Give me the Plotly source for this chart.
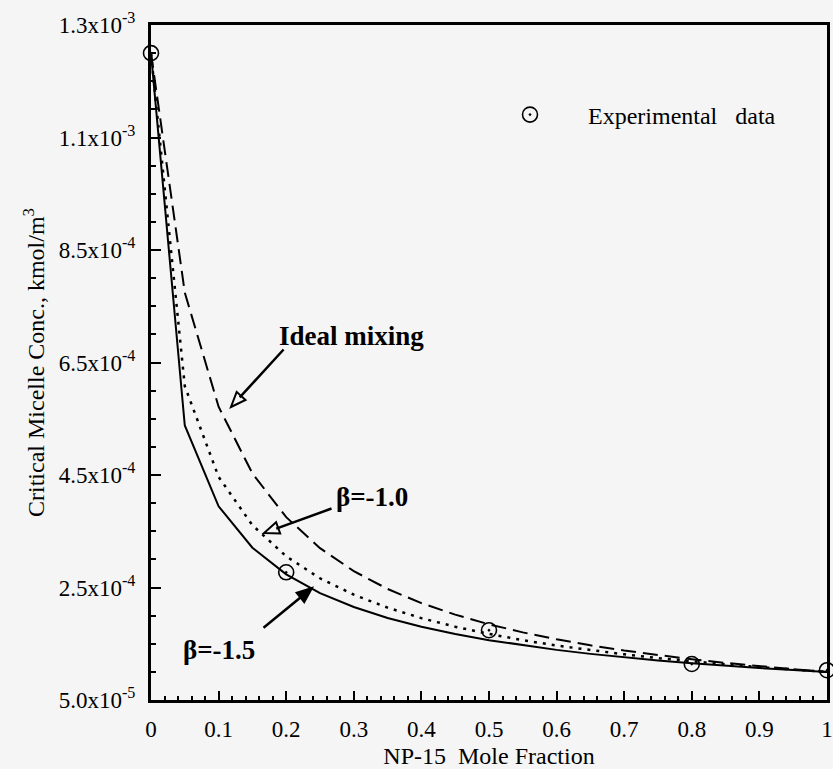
import math
import plotly.graph_objects as go

# NP-15 mole fraction in solution and the critical micelle concentration (kmol/m^3)
mole_fraction = [0.00, 0.05, 0.10, 0.15, 0.20, 0.25, 0.30, 0.35, 0.40, 0.45, 0.50,
                 0.55, 0.60, 0.65, 0.70, 0.75, 0.80, 0.85, 0.90, 0.95, 1.00]
cmc_ideal = [1.200e-3, 7.742e-4, 5.714e-4, 4.528e-4, 3.750e-4, 3.200e-4, 2.791e-4,
             2.474e-4, 2.222e-4, 2.017e-4, 1.846e-4, 1.702e-4, 1.579e-4, 1.472e-4,
             1.379e-4, 1.297e-4, 1.224e-4, 1.159e-4, 1.101e-4, 1.048e-4, 1.000e-4]
cmc_beta_10 = [1.200e-3, 6.080e-4, 4.467e-4, 3.607e-4, 3.054e-4, 2.664e-4, 2.372e-4,
               2.142e-4, 1.955e-4, 1.803e-4, 1.675e-4, 1.564e-4, 1.468e-4, 1.385e-4,
               1.312e-4, 1.245e-4, 1.186e-4, 1.133e-4, 1.084e-4, 1.040e-4, 1.000e-4]
cmc_beta_15 = [1.200e-3, 5.380e-4, 3.944e-4, 3.207e-4, 2.733e-4, 2.401e-4, 2.153e-4,
               1.959e-4, 1.803e-4, 1.674e-4, 1.564e-4, 1.472e-4, 1.391e-4, 1.320e-4,
               1.258e-4, 1.203e-4, 1.154e-4, 1.109e-4, 1.069e-4, 1.033e-4, 1.000e-4]

exp_fraction = [0.0, 0.2, 0.5, 0.8, 1.0]
exp_cmc = [1.200e-3, 2.77e-4, 1.74e-4, 1.14e-4, 1.03e-4]

x_tick_vals = [0, 0.1, 0.2, 0.3, 0.4, 0.5, 0.6, 0.7, 0.8, 0.9, 1.0]
x_tick_text = ["0", "0.1", "0.2", "0.3", "0.4", "0.5", "0.6", "0.7", "0.8", "0.9", "1"]
y_tick_vals = [5.0e-5, 2.5e-4, 4.5e-4, 6.5e-4, 8.5e-4, 1.05e-3, 1.25e-3]
y_tick_text = ["5.0x10<sup>-5</sup>", "2.5x10<sup>-4</sup>", "4.5x10<sup>-4</sup>",
               "6.5x10<sup>-4</sup>", "8.5x10<sup>-4</sup>", "1.1x10<sup>-3</sup>",
               "1.3x10<sup>-3</sup>"]

WIDTH, HEIGHT = 833, 769
MARGIN = dict(l=151, r=6, t=25, b=69)
X_RANGE = [0.0, 1.0]
Y_RANGE = [5.0e-5, 1.25e-3]
PLOT_W = WIDTH - MARGIN["l"] - MARGIN["r"]
PLOT_H = HEIGHT - MARGIN["t"] - MARGIN["b"]
BG = "#f5f5f5"
FONT = "Liberation Serif, Times New Roman, serif"

fig = go.Figure()

fig.add_trace(go.Scatter(
    x=mole_fraction, y=cmc_ideal, mode="lines", name="Ideal mixing",
    line=dict(color="black", width=2, dash="15px,7px"), showlegend=False))
fig.add_trace(go.Scatter(
    x=mole_fraction, y=cmc_beta_10, mode="lines", name="β=-1.0",
    line=dict(color="black", width=2.5, dash="3px,6px"), showlegend=False))
fig.add_trace(go.Scatter(
    x=mole_fraction, y=cmc_beta_15, mode="lines", name="β=-1.5",
    line=dict(color="black", width=2), showlegend=False))
fig.add_trace(go.Scatter(
    x=exp_fraction, y=exp_cmc, mode="markers", name="Experimental\u00a0\u00a0 data",
    marker=dict(symbol="circle-open-dot", size=15, color="black",
                line=dict(color="black", width=1.6)),
    cliponaxis=False, showlegend=True))


def px_to_data(dx, dy):
    """Convert a pixel offset into data-unit offsets on the x and y axes."""
    return (dx * (X_RANGE[1] - X_RANGE[0]) / PLOT_W,
            -dy * (Y_RANGE[1] - Y_RANGE[0]) / PLOT_H)


def arrow(tip_x, tip_y, ax, ay, filled=False, head_len=15, head_half=6):
    """Arrow shaft as an annotation plus a triangular head as a path shape."""
    fig.add_annotation(x=tip_x, y=tip_y, ax=ax, ay=ay, text="", showarrow=True,
                       arrowhead=0, arrowwidth=2.5, arrowcolor="black",
                       standoff=head_len - 2)
    norm = math.hypot(ax, ay)
    ux, uy = ax / norm, ay / norm
    nx, ny = -uy, ux
    pts = [(0.0, 0.0),
           (ux * head_len + nx * head_half, uy * head_len + ny * head_half),
           (ux * head_len - nx * head_half, uy * head_len - ny * head_half)]
    coords = []
    for px, py in pts:
        ddx, ddy = px_to_data(px, py)
        coords.append((tip_x + ddx, tip_y + ddy))
    path = "M {} {} L {} {} L {} {} Z".format(*[v for c in coords for v in c])
    fig.add_shape(type="path", path=path, xref="x", yref="y", layer="above",
                  line=dict(color="black", width=2),
                  fillcolor="black" if filled else BG)


arrow(0.1183, 5.709e-4, 54, -59)
arrow(0.1672, 3.469e-4, 69, -25)
arrow(0.2382, 2.491e-4, -50, 41, filled=True)

label_font = dict(family=FONT, size=27, color="black")
fig.add_annotation(x=0.2973, y=6.971e-4, text="<b>Ideal mixing</b>",
                   showarrow=False, font=label_font)
fig.add_annotation(x=0.3269, y=4.109e-4, text="<b>β=-1.0</b>",
                   showarrow=False, font=label_font)
fig.add_annotation(x=0.0999, y=1.389e-4, text="<b>β=-1.5</b>",
                   showarrow=False, font=label_font)

axis_common = dict(showline=True, linewidth=3, linecolor="black", mirror=True,
                   showgrid=False, zeroline=False, ticks="inside", tickwidth=2,
                   tickcolor="black", tickmode="array", automargin=False)

fig.update_xaxes(
    range=X_RANGE, tickvals=x_tick_vals, ticktext=x_tick_text, ticklen=9,
    tickfont=dict(family=FONT, size=23, color="black"), ticklabelstandoff=6,
    minor=dict(tick0=0, dtick=0.02, ticks="inside", ticklen=4.5, tickwidth=1.5,
               tickcolor="black", showgrid=False),
    title=dict(text="NP-15\u00a0 Mole Fraction",
               font=dict(family=FONT, size=24, color="black"), standoff=12),
    **axis_common)
fig.update_yaxes(
    range=Y_RANGE, tickvals=y_tick_vals, ticktext=y_tick_text, ticklen=10,
    tickfont=dict(family=FONT, size=23, color="black"), ticklabelstandoff=8,
    minor=dict(tick0=5e-5, dtick=5e-5, ticks="inside", ticklen=5, tickwidth=1.5,
               tickcolor="black", showgrid=False),
    title=dict(text="Critical Micelle Conc., kmol/m<sup>3</sup>",
               font=dict(family=FONT, size=24, color="black"), standoff=8),
    **axis_common)

fig.update_layout(
    width=WIDTH, height=HEIGHT, margin=MARGIN,
    paper_bgcolor=BG, plot_bgcolor=BG,
    font=dict(family=FONT, color="black"),
    legend=dict(x=(472 - MARGIN["l"]) / PLOT_W, y=(HEIGHT - MARGIN["b"] - 115) / PLOT_H,
                xanchor="left", yanchor="middle", bgcolor="rgba(0,0,0,0)",
                itemwidth=106, font=dict(family=FONT, size=24, color="black")),
)

fig.write_html("out.html")
